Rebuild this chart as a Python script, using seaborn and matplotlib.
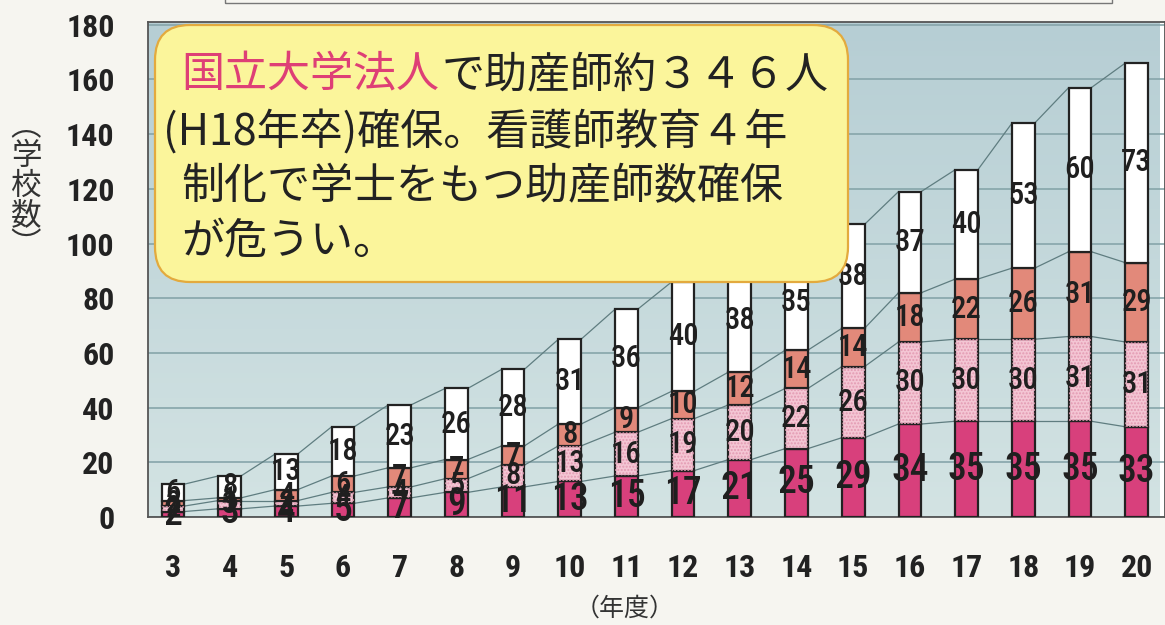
import numpy as np
import pandas as pd
import matplotlib
matplotlib.use('Agg')
import matplotlib.pyplot as plt
import seaborn as sns
from matplotlib import font_manager as fm
from matplotlib.colors import LinearSegmentedColormap
from matplotlib.patches import Rectangle, FancyBboxPatch

# 年度 (平成) と学校数の内訳
years = [str(y) for y in range(3, 21)]
national = [2, 3, 4, 5, 7, 9, 11, 13, 15, 17, 21, 25, 29, 34, 35, 35, 35, 33]
public = [2, 3, 2, 4, 4, 5, 8, 13, 16, 19, 20, 22, 26, 30, 30, 30, 31, 31]
private = [2, 1, 4, 6, 7, 7, 7, 8, 9, 10, 12, 14, 14, 18, 22, 26, 31, 29]
other = [6, 8, 13, 18, 23, 26, 28, 31, 36, 40, 38, 35, 38, 37, 40, 53, 60, 73]

layers = [national, public, private, other]
layer_colors = ['#d8407c', '#f4c6d4', '#e2897a', '#ffffff']
yticks = list(range(0, 181, 20))

note_head = '国立大学法人'
note_lines = ['で助産師約３４６人',
              '(H18年卒)確保。看護師教育４年',
              '制化で学士をもつ助産師数確保',
              'が危うい。']


def pick_narrow_font():
    # 細長い数字用のフォントを探す
    fonts = fm.fontManager.ttflist
    names = {f.name for f in fonts}
    for n in ['Liberation Sans Narrow', 'Roboto Condensed', 'Noto Sans Condensed',
              'DejaVu Sans Condensed', 'Open Sans Condensed']:
        if n in names:
            return n, 'normal'
    for n in ['DejaVu Sans', 'Noto Sans', 'Roboto', 'Open Sans']:
        if any(f.name == n and f.stretch in ('condensed', 'semi-condensed',
                                              'extra-condensed', 500, 'narrow')
               for f in fonts):
            return n, 'condensed'
    cond = sorted(n for n in names if 'Condensed' in n or 'Narrow' in n)
    if cond:
        return cond[0], 'normal'
    return 'Roboto', 'normal'


num_font, num_stretch = pick_narrow_font()

sns.set_style('white')
plt.rcParams['font.family'] = [num_font, 'DejaVu Sans']
plt.rcParams['font.stretch'] = num_stretch
cjk = ['Noto Sans CJK JP', 'DejaVu Sans']

W, H = 1165, 625
fig = plt.figure(figsize=(W / 100, H / 100), dpi=100, facecolor='#f6f5f0')
ax = fig.add_axes([148 / W, (H - 517) / H, 1 - 148 / W, (517 - 22) / H])

xlim = (-0.44, 17.40)
ylim = (0, 181)
# 背景のグラデーション (上が濃い青灰色)
bg = LinearSegmentedColormap.from_list('bg', ['#d3e3e3', '#b6ced4'])
ax.imshow(np.linspace(0, 1, 100).reshape(-1, 1), cmap=bg, origin='lower',
          extent=[xlim[0], xlim[1], ylim[0], ylim[1]], aspect='auto', zorder=0)

bar_w = 0.4
bottom = np.zeros(len(years))
bounds = []
for vals, col in zip(layers, layer_colors):
    n_before = len(ax.patches)
    sns.barplot(x=years, y=vals, bottom=bottom, color=col, saturation=1,
                width=bar_w, edgecolor='#222222', linewidth=1.6,
                errorbar=None, ax=ax, zorder=3)
    if col == layer_colors[1]:
        # 点描風のハッチ
        for p in ax.patches[n_before:]:
            ax.add_patch(Rectangle(p.get_xy(), p.get_width(), p.get_height(),
                                   fill=False, hatch='.....', edgecolor='#e39ab2',
                                   lw=0, zorder=3.5))
    big = col == layer_colors[0]
    for i, v in enumerate(vals):
        if v == 0:
            continue
        ax.text(i, bottom[i] + v / 2, str(v), ha='center', va='center',
                fontsize=27 if big else 22, fontweight='medium',
                color='#1f1f1f', zorder=5)
    bottom = bottom + np.array(vals)
    bounds.append(bottom.copy())

# 各層の境界をつなぐ細線
for lvl in bounds:
    for i in range(len(years) - 1):
        ax.plot([i + bar_w / 2, i + 1 - bar_w / 2], [lvl[i], lvl[i + 1]],
                color='#5f7d80', lw=0.9, zorder=2)

ax.set_xlim(*xlim)
ax.set_ylim(*ylim)
ax.set_yticks(yticks)
ax.set_xticks(np.arange(len(years)) + 0.5, minor=True)
ax.yaxis.grid(True, color='#86a5aa', lw=1.2, zorder=1)
ax.set_axisbelow(True)
ax.tick_params(axis='y', length=0, pad=24, labelsize=23, labelcolor='#222222')
ax.tick_params(axis='x', which='major', length=0, pad=26, labelsize=23,
               labelcolor='#222222')
ax.tick_params(axis='x', which='minor', direction='in', length=9,
               color='#666666', width=1)
for lab in ax.get_xticklabels() + ax.get_yticklabels():
    lab.set_fontweight('bold')
ax.set_xlabel('')
ax.set_ylabel('')
for s in ax.spines.values():
    s.set_color('#555555')
    s.set_linewidth(1.3)

# 軸ラベル
fig.text(26 / W, (H - 186) / H, '︵\n学\n校\n数\n︶', family=cjk, fontsize=22,
         ha='center', va='center', linespacing=0.95, color='#333333')
fig.text(625 / W, (H - 609) / H, '（年度）', family=cjk, fontsize=18,
         ha='center', va='center', color='#333333')

# 上部の枠
fig.add_artist(Rectangle((225 / W, 1 - 3 / H), (1112 - 225) / W, 0.05,
                         transform=fig.transFigure, fill=False,
                         ec='#777777', lw=1))

# 吹き出し
box = FancyBboxPatch((1.55, 3.43), 6.93, 2.57,
                     boxstyle='round,pad=0,rounding_size=0.35',
                     transform=fig.dpi_scale_trans, fc='#fbf59b',
                     ec='#e3aa3e', lw=1.6, zorder=10)
fig.add_artist(box)

t1 = fig.text(181 / W, (H - 75) / H, note_head, family=cjk, fontsize=31,
              color='#de3f76', va='center', ha='left', zorder=11)
t2 = plt.annotate(note_lines[0], xy=(1, 0), xycoords=t1, xytext=(2, 0),
                  textcoords='offset points', family=cjk, fontsize=31,
                  color='#222222', va='bottom', ha='left',
                  annotation_clip=False, zorder=11)
t2.remove()
fig.add_artist(t2)
line_y = [133, 187, 242]
line_x = [163, 181, 181]
for txt, x, y in zip(note_lines[1:], line_x, line_y):
    fig.text(x / W, (H - y) / H, txt, family=cjk, fontsize=31,
             color='#222222', va='center', ha='left', zorder=11)

fig.savefig('out.png', dpi=100, facecolor=fig.get_facecolor())
